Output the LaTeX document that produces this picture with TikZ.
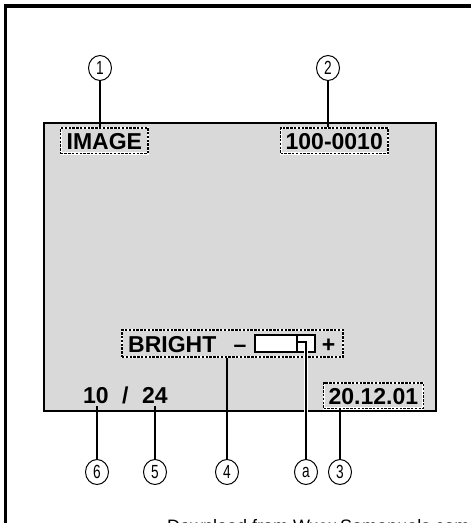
\documentclass[tikz,border=0pt]{standalone}
\usepackage{fontspec}
\setmainfont{Liberation Sans}
\newfontfamily\numfont{Liberation Sans}[FakeStretch=0.72]
\usetikzlibrary{shapes.geometric}
\definecolor{screengray}{RGB}{217,217,217}
\tikzset{
  osd/.style={font=\fontsize{23}{23}\selectfont\bfseries, inner sep=0pt, text height=16.5pt, text depth=0pt},
  osdbox/.style={osd, draw=black, line width=1.3pt, dash pattern=on 2.4pt off 1.4pt,
    inner xsep=6pt, inner ysep=4.5pt, preaction={draw=white, solid, line width=2.2pt}},
  callout/.style={ellipse, draw, line width=1pt, minimum width=23pt, minimum height=25pt,
    inner sep=0pt, font=\numfont\fontsize{19}{19}\selectfont},
  leader/.style={line width=1.8pt},
}
\begin{document}
\begin{tikzpicture}[x=1pt,y=-1pt]
\useasboundingbox (0,0) rectangle (471,523);

% ---------- frame ----------
\draw[line width=3.5pt] (5.5,560) -- (5.5,6) -- (490,6);

% ---------- screen ----------
\node[draw, fill=screengray, line width=1.5pt, minimum width=392pt, minimum height=288pt, inner sep=0pt] (screen) at (240,267) {};

\node[osdbox, anchor=base west] (image) at (60,149) {IMAGE};
\node[osdbox, anchor=base west, inner xsep=5pt] (filenum) at (280,149) {100-0010};
\node[osdbox, anchor=base west, inner xsep=5pt] (date) at (323,404) {20.12.01};
\node[osd, anchor=base west, inner ysep=3pt] (cur) at (83,403) {10};
\node[osd, anchor=base west] (slash) at (122,403) {/};
\node[osd, anchor=base west, inner ysep=3pt] (tot) at (142,403) {24};

% ---------- brightness bar ----------
\node[osdbox, inner sep=0pt, minimum width=221pt, minimum height=27pt] (brightbox) at (232.5,343.5) {};
\node[osd, anchor=base west] (bright) at (128,352) {BRIGHT};
\node[osd, anchor=base] (minus) at (240,352) {–};
\node[osd, anchor=base] (plus) at (328.5,352) {+};
\node[draw, fill=white, line width=1.5pt, minimum width=60pt, minimum height=17pt, inner sep=0pt] (bar) at (285,343.5) {};
\draw[line width=2.5pt] ([xshift=12pt]bar.north) -- ([xshift=12pt]bar.south);
\coordinate (knob) at (298,342);

% ---------- callouts ----------
\node[callout] (c1) at (100,68) {1};
\node[callout] (c2) at (328,68) {2};
\node[callout] (c6) at (97,472) {6};
\node[callout] (c5) at (155,472) {5};
\node[callout] (c4) at (227,472) {4};
\node[callout] (ca) at (306,472) {a};
\node[callout] (c3) at (340,472) {3};

\draw[leader] (c1.south) -- (c1.south |- image.north);
\draw[leader] (c2.south) -- (c2.south |- filenum.north);
\draw[leader] (c3.north) -- (c3.north |- date.south);
\draw[leader] (c4.north) -- (c4.north |- brightbox.south);
\draw[leader] (c5.north) -- (c5.north |- tot.south);
\draw[leader] (c6.north) -- (c6.north |- cur.south);
\draw[leader, preaction={draw=white, line width=4pt}] (ca.north) |- (knob);

% ---------- source line ----------
\node[anchor=base west, inner sep=0pt, font=\fontsize{18}{18}\selectfont] (source) at (167,532) {Download from Www.Somanuals.com. All Manuals Search And Download.};

\end{tikzpicture}
\end{document}
